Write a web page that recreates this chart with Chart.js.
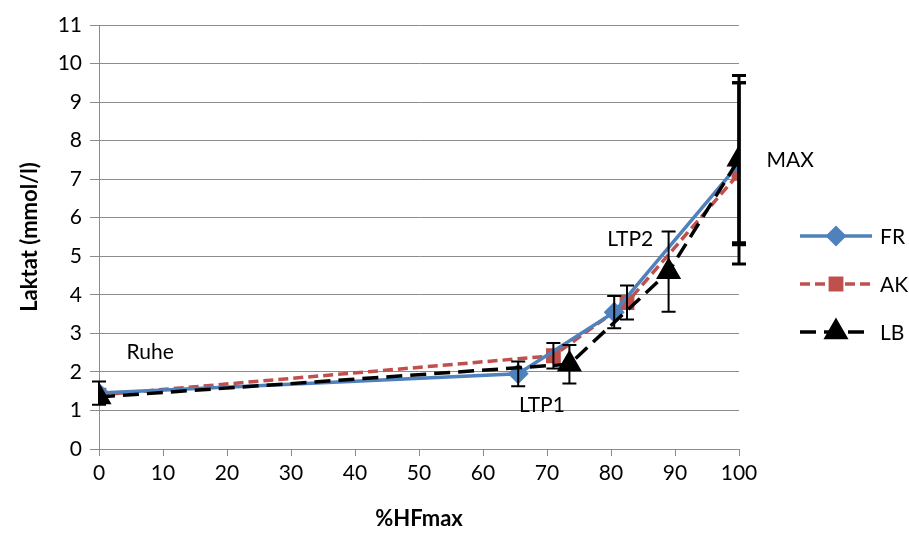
<!DOCTYPE html>
<html>
<head>
<meta charset="utf-8">
<script src="https://cdn.jsdelivr.net/npm/chart.js@4"></script>
<style>
  html, body { margin: 0; padding: 0; background: #fff; }
  #wrap { width: 909px; height: 536px; }
</style>
</head>
<body>
<div id="wrap"><canvas id="chart" width="909" height="536"></canvas></div>
<script>
// data
var xFR = [0, 65.5, 80.5, 100];
var yFR = [1.45, 1.95, 3.55, 7.4];
var eFR = [0.3, 0.32, 0.42, 2.1];

var xAK = [0, 71, 82.5, 100];
var yAK = [1.4, 2.42, 3.8, 7.15];
var eAK = [0, 0.33, 0.44, 2.35];

var xLB = [0, 73.5, 89, 100];
var yLB = [1.35, 2.2, 4.6, 7.52];
var eLB = [0, 0.5, 1.04, 2.17];

var seriesNames = ['FR', 'AK', 'LB'];
var notes = [
    { text: 'Ruhe', x: 8, y: 2.5 },
    { text: 'LTP1', x: 69.2, y: 1.14 },
    { text: 'LTP2', x: 83, y: 5.45 },
    { text: 'MAX', x: 108, y: 7.5 }
];

var FONT = 'Lato, "Open Sans", sans-serif';
var BLUE = '#4F81BD';
var RED = '#C0504D';

function pts(xs, ys) {
    return xs.map(function(x, i) { return { x: x, y: ys[i] }; });
}

// error bars, drawn after the lines
var errorBars = {
    id: 'errorBars',
    afterDatasetsDraw: function(chart) {
        var ctx = chart.ctx;
        var xs = chart.scales.x, ys = chart.scales.y;
        var sets = [[xFR, yFR, eFR], [xAK, yAK, eAK], [xLB, yLB, eLB]];
        ctx.save();
        ctx.strokeStyle = '#000';
        sets.forEach(function(s) {
            s[0].forEach(function(x, i) {
                var e = s[2][i];
                if (!e) return;
                var px = xs.getPixelForValue(x);
                var top = ys.getPixelForValue(s[1][i] + e);
                var bot = ys.getPixelForValue(s[1][i] - e);
                ctx.lineWidth = e > 2 ? 3 : 2;
                ctx.beginPath();
                ctx.moveTo(px, top); ctx.lineTo(px, bot);
                ctx.moveTo(px - 7, top); ctx.lineTo(px + 7, top);
                ctx.moveTo(px - 7, bot); ctx.lineTo(px + 7, bot);
                ctx.stroke();
            });
        });
        ctx.restore();
    }
};

// text notes and legend on the right
var extras = {
    id: 'extras',
    afterDraw: function(chart) {
        var ctx = chart.ctx;
        var xs = chart.scales.x, ys = chart.scales.y;
        ctx.save();
        ctx.font = '21px ' + FONT;
        ctx.fillStyle = '#000';
        ctx.textAlign = 'center';
        ctx.textBaseline = 'middle';
        notes.forEach(function(n) {
            ctx.fillText(n.text, xs.getPixelForValue(n.x), ys.getPixelForValue(n.y));
        });

        // legend
        var lx = 800, ly = 236, gap = 48;
        chart.data.datasets.forEach(function(ds, i) {
            var y = ly + i * gap;
            ctx.strokeStyle = ds.borderColor;
            ctx.lineWidth = ds.borderWidth;
            ctx.setLineDash(ds.borderDash || []);
            ctx.beginPath();
            ctx.moveTo(lx, y); ctx.lineTo(lx + 72, y);
            ctx.stroke();
            ctx.setLineDash([]);
            Chart.helpers.drawPoint(ctx, {
                pointStyle: ds.pointStyle,
                radius: ds.pointRadius,
                rotation: ds.pointRotation || 0,
                borderWidth: 1
            }, lx + 36, y);
            ctx.fillStyle = ds.pointBackgroundColor;
            ctx.fill();
            ctx.fillStyle = '#000';
            ctx.textAlign = 'left';
            ctx.fillText(seriesNames[i], lx + 80, y + 1);
        });
        ctx.restore();
    }
};

new Chart(document.getElementById('chart').getContext('2d'), {
    type: 'line',
    data: {
        datasets: [{
            label: 'FR',
            data: pts(xFR, yFR),
            borderColor: BLUE,
            backgroundColor: BLUE,
            pointBackgroundColor: BLUE,
            pointBorderColor: BLUE,
            borderWidth: 3.5,
            pointStyle: 'rectRot',
            pointRadius: 8,
            order: 1
        }, {
            label: 'AK',
            data: pts(xAK, yAK),
            borderColor: RED,
            backgroundColor: RED,
            pointBackgroundColor: RED,
            pointBorderColor: RED,
            borderWidth: 3.5,
            borderDash: [10, 5],
            pointStyle: 'rect',
            pointRadius: 8,
            order: 2
        }, {
            label: 'LB',
            data: pts(xLB, yLB),
            borderColor: '#000',
            backgroundColor: '#000',
            pointBackgroundColor: '#000',
            pointBorderColor: '#000',
            borderWidth: 3.5,
            borderDash: [16, 8],
            pointStyle: 'triangle',
            pointRadius: 11,
            order: 0
        }]
    },
    options: {
        responsive: false,
        animation: false,
        layout: { padding: { top: 25, right: 170, left: 0, bottom: 0 } },
        plugins: {
            legend: { display: false },
            tooltip: { enabled: false }
        },
        elements: { line: { tension: 0 } },
        scales: {
            x: {
                type: 'linear',
                min: 0,
                max: 100,
                ticks: { stepSize: 10, padding: 5, color: '#000', font: { family: FONT, size: 21 } },
                grid: { drawOnChartArea: false, drawTicks: true, tickLength: 7, color: '#8c8c8c' },
                border: { color: '#8c8c8c', width: 1 },
                title: { display: true, text: '%HFmax', color: '#000', font: { family: FONT, size: 22, weight: 'bold' }, padding: { top: 14 } },
                afterFit: function(s) { s.height = 87; }
            },
            y: {
                min: 0,
                max: 11,
                ticks: { stepSize: 1, padding: 8, color: '#000', font: { family: FONT, size: 21 } },
                grid: { color: '#8c8c8c', tickLength: 9 },
                border: { color: '#8c8c8c', width: 1 },
                title: { display: true, text: 'Laktat (mmol/l)', color: '#000', font: { family: FONT, size: 22, weight: 'bold' }, padding: { top: 17, bottom: 4 } },
                afterFit: function(s) { s.width = 99; }
            }
        }
    },
    plugins: [errorBars, extras]
});
</script>
</body>
</html>
